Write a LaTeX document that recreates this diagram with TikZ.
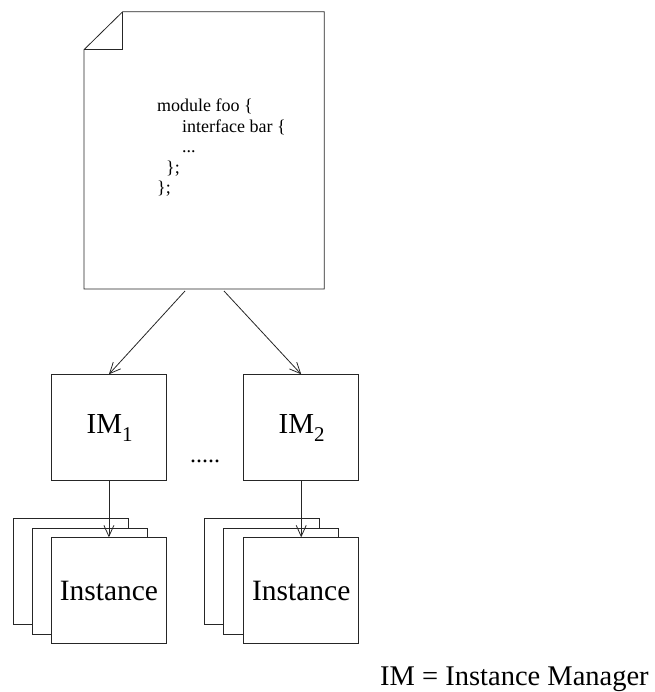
\documentclass[tikz,border=0pt]{standalone}
\usepackage{fontspec}
\setmainfont{Liberation Serif}
\usetikzlibrary{arrows.meta}
\tikzset{
  ln/.style={line width=0.8pt, draw=black!85},
  box/.style={ln, fill=white, minimum width=115pt, minimum height=106pt, inner sep=0pt, anchor=north west},
  code/.style={anchor=base west, inner sep=0pt, font=\fontsize{18}{20}\selectfont},
  arr/.style={ln, -{Straight Barb[length=11pt,width=10pt]}}
}
\begin{document}
\begin{tikzpicture}[x=1pt,y=-1pt]
\useasboundingbox (0,0) rectangle (654,692);
% document
\coordinate (dA) at (122.7,11.7);
\coordinate (dB) at (324.3,11.7);
\coordinate (dC) at (324.3,289);
\coordinate (dD) at (84,289);
\coordinate (dE) at (84,49.7);
\coordinate (dF) at (122.7,49.7);
\draw[ln, line join=miter] (dA) -- (dB) -- (dC) -- (dD) -- (dE) -- cycle;
\draw[ln] (dE) -- (dF) -- (dA);
\node[code] (c1) at (157,112) {module foo \{};
\node[code] (c2) at (182,132.5) {interface bar \{};
\node[code] (c3) at (182,153) {...};
\node[code] (c4) at (166,173.5) {\};};
\node[code] (c5) at (157,194) {\};};
\coordinate (s1) at (185,291);
\coordinate (s2) at (224,291);
% IM boxes
\node[box] (im1) at (51,374.3) {};
\node[box] (im2) at (243.3,374.3) {};
\node[anchor=base west, inner sep=0pt, font=\fontsize{29}{30}\selectfont] (t1) at (86.5,433) {IM\raisebox{-8pt}{\fontsize{21}{22}\selectfont 1}};
\node[anchor=base west, inner sep=0pt, font=\fontsize{29}{30}\selectfont] (t2) at (278.5,433) {IM\raisebox{-8pt}{\fontsize{21}{22}\selectfont 2}};
\node[font=\fontsize{24}{26}\selectfont] (dots) at (205,461) {.....};
% instance stacks
\node[box] (a3) at (12.7,518.3) {};
\node[box] (a2) at (32,527.7) {};
\node[box, font=\fontsize{29.5}{30}\selectfont] (a1) at (51,537.3) {Instance};
\node[box] (b3) at (204.3,518.3) {};
\node[box] (b2) at (223.3,527.7) {};
\node[box, font=\fontsize{29.5}{30}\selectfont] (b1) at (243.3,537.3) {Instance};
% arrows
\draw[arr] (s1) -- (im1.north);
\draw[arr] (s2) -- (im2.north);
\draw[arr] (im1.south) -- (a1.north);
\draw[arr] (im2.south) -- (b1.north);
% legend
\node[anchor=base west, inner sep=0pt, font=\fontsize{28.5}{30}\selectfont] (leg) at (380,685) {IM = Instance Manager};
\end{tikzpicture}
\end{document}
